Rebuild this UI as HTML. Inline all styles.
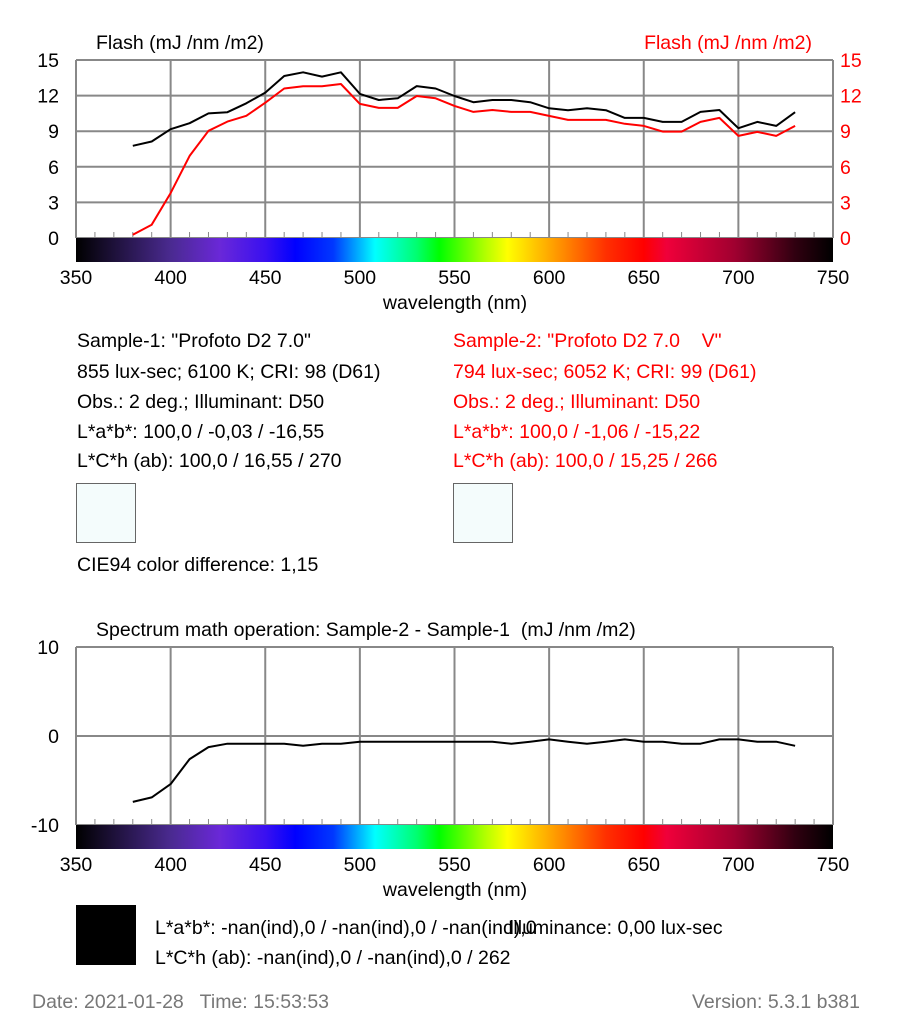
<!DOCTYPE html>
<html><head><meta charset="utf-8"><style>
body{margin:0;background:#fff;width:901px;height:1024px;overflow:hidden;font-family:"Liberation Sans",Arial,sans-serif}
svg text{font-family:"Liberation Sans",Arial,sans-serif}
</style></head><body>
<svg width="901" height="1024" viewBox="0 0 901 1024">
<defs>
<linearGradient id="spec" x1="0" x2="1" y1="0" y2="0">
<stop offset="0" stop-color="#000"/>
<stop offset="0.125" stop-color="#4a2a90"/>
<stop offset="0.19" stop-color="#6a28d8"/>
<stop offset="0.25" stop-color="#3a10f0"/>
<stop offset="0.29" stop-color="#0000ff"/>
<stop offset="0.34" stop-color="#0038ff"/>
<stop offset="0.38" stop-color="#00c8ff"/>
<stop offset="0.395" stop-color="#00ffff"/>
<stop offset="0.45" stop-color="#00ff70"/>
<stop offset="0.48" stop-color="#00ff00"/>
<stop offset="0.54" stop-color="#b0ff00"/>
<stop offset="0.57" stop-color="#ffff00"/>
<stop offset="0.63" stop-color="#ffa000"/>
<stop offset="0.70" stop-color="#ff3000"/>
<stop offset="0.75" stop-color="#ff0000"/>
<stop offset="0.78" stop-color="#f0003a"/>
<stop offset="0.87" stop-color="#a00030"/>
<stop offset="0.95" stop-color="#300010"/>
<stop offset="1" stop-color="#000"/>
</linearGradient>
</defs>
<g id="top"></g>
<g id="bot"></g>

<text x="96" y="49" font-size="19.5" fill="#000">Flash (mJ /nm /m2)</text>
<text x="812" y="49" font-size="19.5" fill="#ff0000" text-anchor="end">Flash (mJ /nm /m2)</text>

<g font-size="19.5">
<text x="77" y="347">Sample-1: "Profoto D2 7.0"</text>
<text x="77" y="378">855 lux-sec; 6100 K; CRI: 98 (D61)</text>
<text x="77" y="408">Obs.: 2 deg.; Illuminant: D50</text>
<text x="77" y="438">L*a*b*: 100,0 / -0,03 / -16,55</text>
<text x="77" y="467">L*C*h (ab): 100,0 / 16,55 / 270</text>
</g>
<g font-size="19.5" fill="#ff0000">
<text x="453" y="347" xml:space="preserve">Sample-2: "Profoto D2 7.0    V"</text>
<text x="453" y="378">794 lux-sec; 6052 K; CRI: 99 (D61)</text>
<text x="453" y="408">Obs.: 2 deg.; Illuminant: D50</text>
<text x="453" y="438">L*a*b*: 100,0 / -1,06 / -15,22</text>
<text x="453" y="467">L*C*h (ab): 100,0 / 15,25 / 266</text>
</g>
<rect x="76.5" y="483.5" width="59" height="59" fill="#f4fcfc" stroke="#666"/>
<rect x="453.5" y="483.5" width="59" height="59" fill="#f4fcfc" stroke="#666"/>
<text x="77" y="571" font-size="19.5">CIE94 color difference: 1,15</text>
<text x="96" y="636" font-size="19.5" xml:space="preserve">Spectrum math operation: Sample-2 - Sample-1  (mJ /nm /m2)</text>
<rect x="76" y="905" width="60" height="60" fill="#000"/>
<g font-size="19.5">
<text x="155" y="934">L*a*b*: -nan(ind),0 / -nan(ind),0 / -nan(ind),0</text>
<text x="508" y="934">Illuminance: 0,00 lux-sec</text>
<text x="155" y="964">L*C*h (ab): -nan(ind),0 / -nan(ind),0 / 262</text>
</g>
<text x="32" y="1008" font-size="19.5" fill="#777" xml:space="preserve">Date: 2021-01-28   Time: 15:53:53</text>
<text x="860" y="1008" font-size="19.5" fill="#777" text-anchor="end">Version: 5.3.1 b381</text>
</svg>
<script>
const wl=[380,390,400,410,420,430,440,450,460,470,480,490,500,510,520,530,540,550,560,570,580,590,600,610,620,630,640,650,660,670,680,690,700,710,720,730];
const sample1=[7.77,8.13,9.17,9.67,10.5,10.6,11.35,12.25,13.65,13.96,13.6,13.96,12.14,11.63,11.77,12.8,12.6,11.97,11.44,11.63,11.63,11.44,10.93,10.77,10.93,10.77,10.12,10.12,9.78,9.78,10.63,10.79,9.25,9.78,9.45,10.6];
const sample2=[0.28,1.12,3.78,6.92,9.03,9.81,10.3,11.4,12.6,12.78,12.78,12.98,11.3,10.96,10.96,11.97,11.77,11.13,10.63,10.79,10.63,10.63,10.29,9.95,9.95,9.95,9.62,9.45,8.97,8.97,9.78,10.12,8.6,8.94,8.6,9.45];
const diff=[-7.4,-6.9,-5.4,-2.6,-1.25,-0.87,-0.87,-0.87,-0.87,-1.1,-0.87,-0.87,-0.64,-0.64,-0.64,-0.64,-0.64,-0.64,-0.64,-0.64,-0.87,-0.64,-0.38,-0.64,-0.87,-0.64,-0.38,-0.64,-0.64,-0.87,-0.87,-0.38,-0.38,-0.64,-0.64,-1.1];
const xTicks=[350,400,450,500,550,600,650,700,750];
const topTicks=[0,3,6,9,12,15];
const botTicks=[-10,0,10];
const NS="http://www.w3.org/2000/svg";
function mk(p,t,a){const e=document.createElementNS(NS,t);for(const k in a)e.setAttribute(k,a[k]);p.appendChild(e);return e;}
function chart(g,x0,x1,yTop,yBot,ymin,ymax,yt,rightAxis,series){
  const X=v=>x0+(v-350)/400*(x1-x0);
  const Y=v=>yBot-(v-ymin)/(ymax-ymin)*(yBot-yTop);
  for(const t of yt){const l=mk(g,'line',{x1:x0,x2:x1,y1:Y(t),y2:Y(t),stroke:'#888','stroke-width':2});
    
    
    const tx=mk(g,'text',{x:59,y:Y(t)+7,'font-size':19.5,'text-anchor':'end'});tx.textContent=t;
    
    
    if(rightAxis){const r=mk(g,'text',{x:840,y:Y(t)+7,'font-size':19.5,fill:'#ff0000'});r.textContent=t;
      
      }
  }
  for(const t of xTicks){const l=mk(g,'line',{x1:X(t),x2:X(t),y1:yTop,y2:yBot,stroke:'#888','stroke-width':2});
    
    
    const tx=mk(g,'text',{x:X(t),y:yBot+46,'font-size':19.5,'text-anchor':'middle'});tx.textContent=t;
    
    }
  for(let w=360;w<750;w+=10){if(w%50==0)continue;const l=mk(g,'line',{x1:X(w),x2:X(w),y1:yBot-6,y2:yBot,stroke:'#888','stroke-width':1});
    
    }
  const b=mk(g,'rect',{x:x0,y:yBot,width:x1-x0,height:24,fill:'url(#spec)'});
  
  
  const tl=mk(g,'text',{x:455,y:yBot+71,'font-size':19.5,'text-anchor':'middle'});tl.textContent='wavelength (nm)';
  
  
  for(const s of series){const pts=wl.map((w,i)=>X(w).toFixed(1)+','+Y(s.v[i]).toFixed(1)).join(' ');
    const p=mk(g,'polyline',{points:pts,fill:'none',stroke:s.c,'stroke-width':2,'stroke-linejoin':'round'});
    
    }
}
chart(document.getElementById('top'),76,833,60,238,0,15,topTicks,true,[{v:sample1,c:'#000',n:'sample-1-line'},{v:sample2,c:'#ff0000',n:'sample-2-line'}]);
chart(document.getElementById('bot'),76,833,647,825,-10,10,botTicks,false,[{v:diff,c:'#000',n:'difference-line'}]);
</script>
</body></html>
